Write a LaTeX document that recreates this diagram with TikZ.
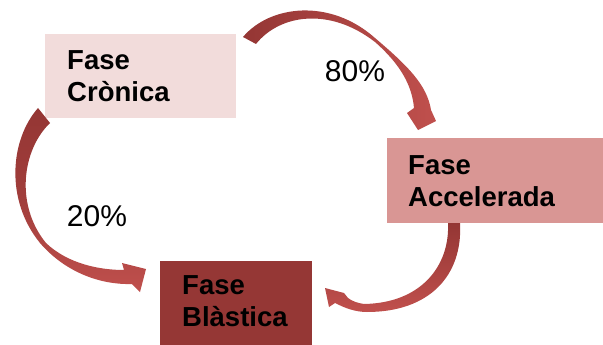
\documentclass[tikz,border=0pt]{standalone}
\usepackage{fontspec}
\setmainfont{Liberation Sans}
\definecolor{chronic}{HTML}{F2DCDB}
\definecolor{accel}{HTML}{D99694}
\definecolor{blast}{HTML}{953735}
\definecolor{arrdark}{HTML}{943634}
\definecolor{arrlight}{HTML}{C0504D}
\begin{document}
\begin{tikzpicture}[x=1pt,y=-1pt,
  phasebox/.style={draw=none, inner sep=0pt, anchor=north west},
  phasetext/.style={font=\bfseries\fontsize{27.5}{32}\selectfont, align=left, inner sep=0pt, anchor=north west},
  pct/.style={font=\fontsize{30}{36}\selectfont, inner sep=0pt, anchor=base}]
\useasboundingbox (0,0) rectangle (603,345);

% phase boxes
\node[phasebox, fill=chronic, minimum width=191pt, minimum height=84pt] (cron) at (45,34) {};
\node[phasebox, fill=accel, minimum width=216pt, minimum height=85pt] (accel) at (387,138) {};
\node[phasebox, fill=blast, minimum width=152pt, minimum height=84pt] (blast) at (160,261) {};

\node[phasetext] (crontext) at (67,50.5) {Fase\\Crònica};
\node[phasetext] (acceltext) at (408,155.5) {Fase\\Accelerada};
\node[phasetext] (blasttext) at (182,275.5) {Fase\\Blàstica};

% curved block arrows: outer edge, head, inner edge back to the tail
\shade[left color=arrdark, right color=arrlight]
  (243,37) .. controls (270,5) and (330,-2) .. (375,38)
  .. controls (408,66) and (427,85) .. (431,110)
  -- (436,121) -- (418,130) -- (407,113) -- (414,108)
  .. controls (412,85) and (400,64) .. (375,42)
  .. controls (330,7) and (280,14) .. (256,44)
  -- cycle;

\shade[top color=arrdark, bottom color=arrlight, middle color=arrdark!70!arrlight]
  (38,108) .. controls (10,140) and (5,200) .. (40,243)
  .. controls (65,272) and (100,285) .. (132,284)
  -- (140,292) -- (146,269) -- (122,263) -- (124,270)
  .. controls (100,270) and (68,264) .. (46,243)
  .. controls (15,205) and (22,150) .. (50,123)
  -- cycle;

\shade[top color=arrdark, bottom color=arrlight]
  (460,223) .. controls (463,275) and (430,312) .. (367,312)
  .. controls (355,312) and (345,308) .. (335,303)
  -- (329,307) -- (325,288) -- (344,293) -- (348,298)
  .. controls (352,301) and (357,303) .. (364,304)
  .. controls (422,303) and (450,265) .. (448,223)
  -- cycle;

% transition shares
\node[pct] (p80) at (355,81.5) {80\%};
\node[pct] (p20) at (97,226) {20\%};
\end{tikzpicture}
\end{document}
